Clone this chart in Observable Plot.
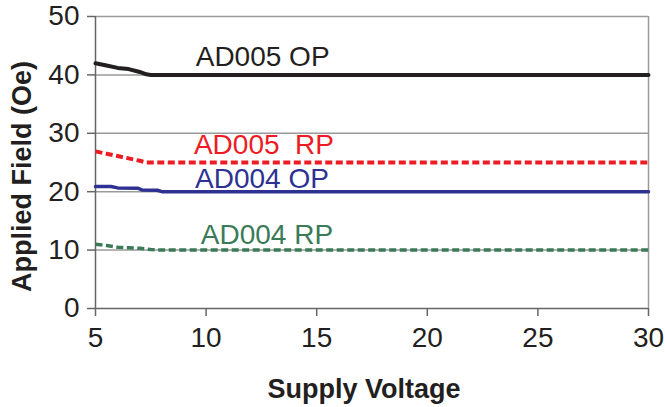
<!DOCTYPE html>
<html>
<head>
<meta charset="utf-8">
<script src="https://cdn.jsdelivr.net/npm/d3@7"></script>
<script src="https://cdn.jsdelivr.net/npm/@observablehq/plot@0.6"></script>
<style>
  html, body { margin: 0; padding: 0; background: #fff; }
  svg text { white-space: pre; }
</style>
</head>
<body>
<div id="chart"></div>
<script>
// Series: [supply voltage, applied field]
const ad005OP = [[5,42],[5.5,41.6],[6,41.2],[6.5,41],[7,40.5],[7.3,40.1],[7.5,40],[8,40],[10,40],[15,40],[20,40],[25,40],[30,40]];
const ad005RP = [[5,26.9],[5.5,26.5],[6,26.1],[6.5,25.7],[7,25.3],[7.3,25],[8,25],[10,25],[15,25],[20,25],[25,25],[30,25]];
const ad004OP = [[5,20.9],[5.7,20.9],[6,20.65],[6.9,20.6],[7.1,20.3],[7.8,20.25],[8,20],[10,20],[15,20],[20,20],[25,20],[30,20]];
const ad004RP = [[5,11],[5.5,10.8],[6,10.5],[6.5,10.4],[7,10.3],[7.5,10.1],[8,10],[10,10],[15,10],[20,10],[25,10],[30,10]];

const seriesNames = ["AD005 OP", "AD005  RP", "AD004 OP", "AD004 RP"];
const seriesColors = ["#231f20", "#ed1c24", "#2e3192", "#3b7a57"];
const labelX = [9.53, 9.45, 9.5, 9.76];
const labelY = [43.0, 28.0, 22.2, 12.6];

const xTicks = [5, 10, 15, 20, 25, 30];
const yTicks = [0, 10, 20, 30, 40, 50];
const gridY = [10, 20, 30, 40, 50];

const toRows = (arr) => arr.map(([x, y]) => ({x, y}));
const labels = seriesNames.map((name, i) => ({name, x: labelX[i], y: labelY[i], color: seriesColors[i]}));

const font = "Liberation Sans, Arial, Helvetica, sans-serif";
const dash = "7,3.5";

const chart = Plot.plot({
  width: 665,
  height: 407,
  marginLeft: 95,
  marginRight: 17,
  marginTop: 16,
  marginBottom: 99,
  style: {fontFamily: font, background: "#fff", color: "#231f20"},
  x: {domain: [5, 30]},
  y: {domain: [0, 50]},
  marks: [
    Plot.ruleY(gridY, {stroke: "#9a9a9a", strokeWidth: 1.5}),
    Plot.ruleX([30], {stroke: "#9a9a9a", strokeWidth: 1.5}),
    Plot.axisX({ticks: xTicks, tickSize: 8, tickPadding: 11, fontSize: 28, stroke: "#666", strokeWidth: 1.5, color: "#231f20",
      label: "Supply Voltage", labelAnchor: "center", labelArrow: "none", labelOffset: 89}),
    Plot.axisY({ticks: yTicks, tickSize: 8, tickPadding: 8, fontSize: 28, stroke: "#666", strokeWidth: 1.5, color: "#231f20",
      label: "Applied Field (Oe)", labelAnchor: "center", labelArrow: "none", labelOffset: 84}),
    Plot.ruleX([5], {stroke: "#666", strokeWidth: 1.5}),
    Plot.ruleY([0], {x1: 5, x2: 30, stroke: "#666", strokeWidth: 1.5}),
    Plot.line(toRows(ad004RP), {x: "x", y: "y", stroke: seriesColors[3], strokeWidth: 3.5, strokeDasharray: dash, strokeLinecap: "butt", strokeLinejoin: "miter"}),
    Plot.line(toRows(ad004OP), {x: "x", y: "y", stroke: seriesColors[2], strokeWidth: 3.5}),
    Plot.line(toRows(ad005RP), {x: "x", y: "y", stroke: seriesColors[1], strokeWidth: 4, strokeDasharray: dash, strokeLinecap: "butt", strokeLinejoin: "miter"}),
    Plot.line(toRows(ad005OP), {x: "x", y: "y", stroke: seriesColors[0], strokeWidth: 4}),
    Plot.text(labels, {x: "x", y: "y", text: "name", fill: "color", textAnchor: "start", lineAnchor: "middle", fontSize: 28})
  ]
});

// Bold axis titles
chart.querySelectorAll("[aria-label='x-axis label'] text, [aria-label='y-axis label'] text").forEach(t => {
  t.setAttribute("font-weight", "bold");
  t.setAttribute("font-size", "27");
});
chart.querySelectorAll("[aria-label='x-axis label'] text").forEach(t => t.setAttribute("dx", "-8"));
chart.querySelectorAll("[aria-label='y-axis label'] text").forEach(t => t.setAttribute("dx", "-14"));
document.getElementById("chart").appendChild(chart);
</script>
</body>
</html>
